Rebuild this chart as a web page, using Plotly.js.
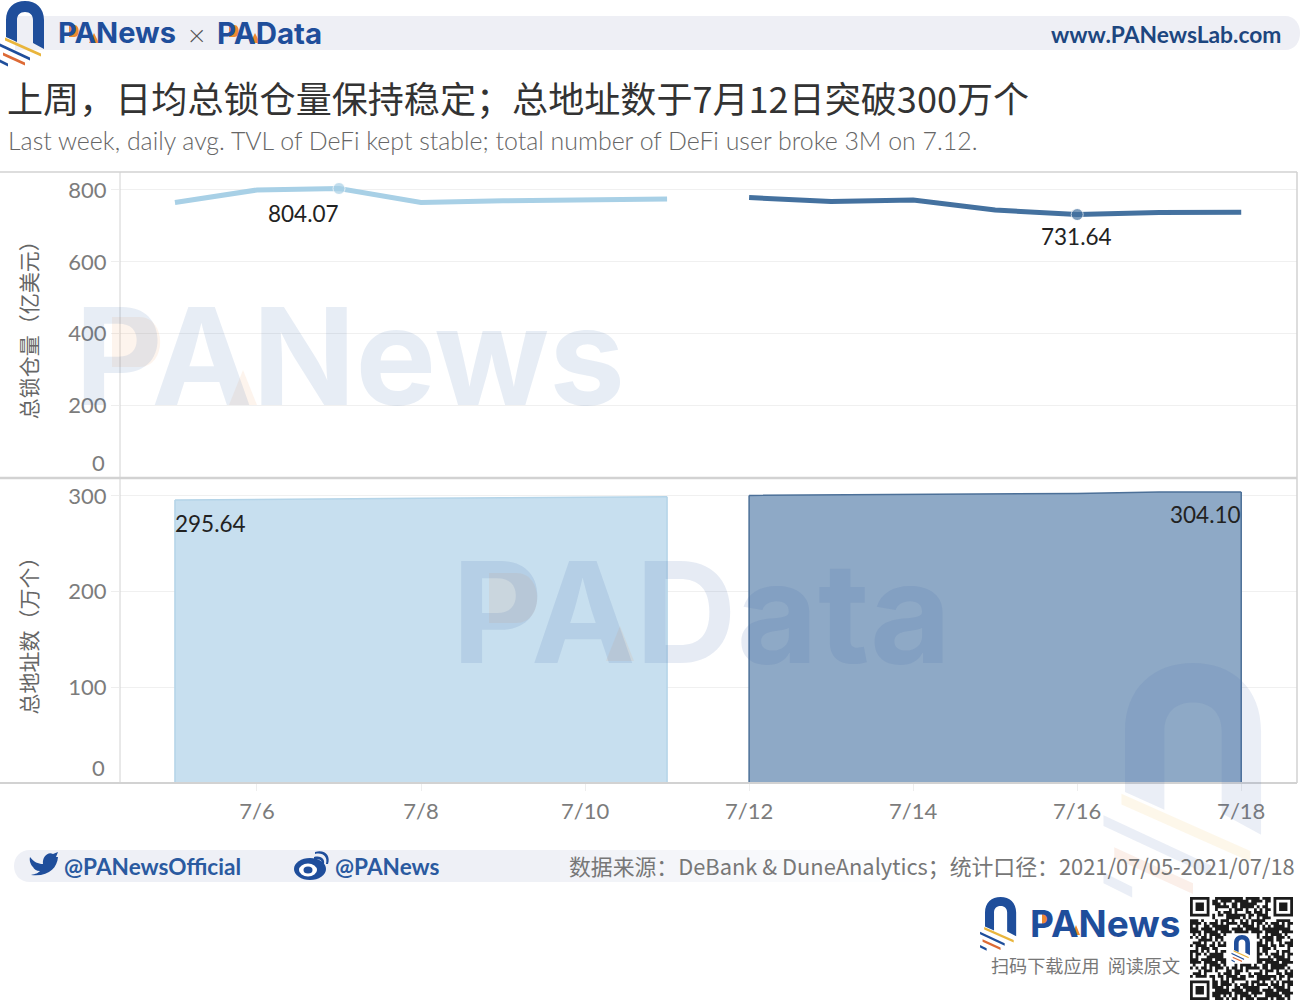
<!DOCTYPE html>
<html><head><meta charset="utf-8">
<script src="https://cdn.plot.ly/plotly-3.0.1.min.js"></script>
<style>html,body{margin:0;padding:0;background:#fff}#c{width:1300px;height:1004px}</style>
</head><body><div id="c"></div>
<script>
// ---- data ----
const daysA = ['7/5','7/6','7/7','7/8','7/9','7/10','7/11'];
const daysB = ['7/12','7/13','7/14','7/15','7/16','7/17','7/18'];
const allDays = daysA.concat(daysB);
const tickDays = ['7/6','7/8','7/10','7/12','7/14','7/16','7/18'];
const tvlA = [765,800,804.07,765,770,772,775];
const tvlB = [779,768,772,744,731.64,737,738];
const usersA = [295.64,296,297,297.5,298,298.5,299];
const usersB = [300.5,301,302,302,302.5,304,304.10];
const tvlTicks = [200,400,600,800];
const userTicks = [100,200,300];
const tvlMarkA = [0,0,12,0,0,0,0];
const tvlMarkB = [0,0,0,0,12,0,0];

// ---- helpers: page pixels to paper fractions (the paper is the whole page) ----
const W=1300,H=1004;
const fx=x=>x/W, fy=y=>1-y/H, pt=(x,y)=>fx(x)+','+fy(y);
const shapes=[];
function path(d,fill,opacity,layer){shapes.push({type:'path',xref:'paper',yref:'paper',path:d,fillcolor:fill,line:{width:0},opacity:opacity==null?1:opacity,layer:layer||'above'});}
function rect(x0,y0,x1,y1,fill,opacity,layer){shapes.push({type:'rect',xref:'paper',yref:'paper',x0:fx(x0),x1:fx(x1),y0:fy(y0),y1:fy(y1),fillcolor:fill,line:{width:0},opacity:opacity==null?1:opacity,layer:layer||'above'});}
function hline(x0,x1,y,w){shapes.push({type:'line',xref:'paper',yref:'paper',x0:fx(x0),x1:fx(x1),y0:fy(y),y1:fy(y),line:{color:'#d2d2d2',width:w}});}
function vline(x,y0,y1,w){shapes.push({type:'line',xref:'paper',yref:'paper',x0:fx(x),x1:fx(x),y0:fy(y0),y1:fy(y1),line:{color:'#d2d2d2',width:w}});}
function ell(cx,cy,rx,ry,fill,opacity){shapes.push({type:'circle',xref:'paper',yref:'paper',x0:fx(cx-rx),x1:fx(cx+rx),y0:fy(cy+ry),y1:fy(cy-ry),fillcolor:fill,line:{width:0},opacity:opacity==null?1:opacity});}
function stripe(ox,oy,s,a,b,c,d,th,fill,op){
  const q=(u,v)=>pt(ox+u*s,oy+v*s), t=th/2;
  path('M'+q(a,b-t)+'L'+q(c,d-t)+'L'+q(c,d+t)+'L'+q(a,b+t)+'Z',fill,op);
}
function logo(ox,oy,s,op,cols){
  const q=(u,v)=>pt(ox+u*s,oy+v*s);
  const d='M'+q(0,36)+'L'+q(0,19)+'C'+q(0,7)+' '+q(8,0)+' '+q(19,0)+'C'+q(30,0)+' '+q(38,7)+' '+q(38,19)+
    'L'+q(38,48)+'L'+q(27,42)+'L'+q(27,19)+'C'+q(27,14)+' '+q(24,11)+' '+q(19,11)+'C'+q(14,11)+' '+q(11,14)+' '+q(11,19)+'L'+q(11,41)+'Z';
  path(d,cols[0],op);
  stripe(ox,oy,s,-1,38,35,54,3,cols[1],op);
  stripe(ox,oy,s,-6,44,24,58,3,cols[0],op);
  stripe(ox,oy,s,-3,53,19,63,3,cols[2],op);
  stripe(ox,oy,s,-6,60,2,64,3,cols[0],op);
}
const logoCols=['#1f4e9b','#e9b53c','#dd6a35'];

// chrome bars
path('M'+pt(15,16)+'L'+pt(1285,16)+'C'+pt(1295,16)+' '+pt(1300,24)+' '+pt(1300,33)+'C'+pt(1300,42)+' '+pt(1295,50)+' '+pt(1285,50)+'L'+pt(15,50)+'Z','#eeeff5',1,'below');
path('M'+pt(30,850)+'L'+pt(520,850)+'L'+pt(520,882)+'L'+pt(30,882)+'C'+pt(20,882)+' '+pt(14,875)+' '+pt(14,866)+'C'+pt(14,857)+' '+pt(20,850)+' '+pt(30,850)+'Z','#eef0f6',1,'below');
for(let i=0;i<10;i++){rect(520+i*40,850,560+i*40,882,'#eef0f6',1-(i+0.5)/10,'below');}

// frame
hline(0,1297,172,1.5); hline(0,1297,478,2.5); hline(0,1297,783,2);
vline(120,172,783,1); vline(1297,172,783,1.5);

// logos and accents
logo(6,1,1,1,logoCols);
logo(985,897,0.82,1,logoCols);
logo(1125,663,3.58,0.11,['#3d68ad','#e9b53c','#dd6a35']);
function accent(x0,y0,x1,y1,op,kind){
  if(kind==='p'){path('M'+pt(x0,y0)+'L'+pt((x0+x1)/2,y0)+'C'+pt(x1,y0)+' '+pt(x1,y1)+' '+pt((x0+x1)/2,y1)+'L'+pt(x0,y1)+'Z','#ee8a32',op);}
  else{path('M'+pt(x0,y1)+'L'+pt((x0+x1)/2,y0)+'L'+pt(x1,y1)+'Z','#ee8a32',op);}
}
accent(69,25,80,37,1,'p'); accent(89,33,99,43,1,'a');
accent(229,25,240,37,1,'p'); accent(250,33,260,43,1,'a');
accent(1042,912,1052,927,1,'p'); accent(1072,925,1080,935,1,'a');
accent(112,317,167,367,0.09,'p'); accent(229,370,257,405,0.09,'a');
accent(489,573,544,623,0.09,'p'); accent(606,626,634,661,0.09,'a');

// twitter bird
path('M'+pt(30,857)+'C'+pt(34,862)+' '+pt(38,864)+' '+pt(43,864)+'C'+pt(42,857)+' '+pt(48,851)+' '+pt(53,854)+'L'+pt(58,852)+'L'+pt(56,857)+'L'+pt(58,857)+'C'+pt(57,868)+' '+pt(49,877)+' '+pt(31,875)+'C'+pt(36,874)+' '+pt(38,873)+' '+pt(40,871)+'C'+pt(36,871)+' '+pt(34,869)+' '+pt(33,867)+'C'+pt(31,865)+' '+pt(29,861)+' '+pt(30,857)+'Z','#1f4e9b');
// weibo
ell(310,869,16,11,'#1f4e9b'); ell(308,870,9,6.5,'#ffffff'); ell(308,870,4.5,3.5,'#1f4e9b');
path('M'+pt(314,857)+'C'+pt(322,855)+' '+pt(325,860)+' '+pt(324,864)+'L'+pt(322,864)+'C'+pt(322,860)+' '+pt(320,859)+' '+pt(314,859)+'Z','#1f4e9b');
path('M'+pt(315,852)+'C'+pt(325,849)+' '+pt(331,856)+' '+pt(328,864)+'L'+pt(326,864)+'C'+pt(328,857)+' '+pt(323,852)+' '+pt(315,854)+'Z','#1f4e9b');

// decorative scan-code block in the corner
(function(){
  const n=37,x0=1190,y0=897,m=103/n; let d='';
  const cell=(r,c)=>{d+='M'+pt(x0+c*m,y0+r*m)+'L'+pt(x0+(c+1)*m,y0+r*m)+'L'+pt(x0+(c+1)*m,y0+(r+1)*m)+'L'+pt(x0+c*m,y0+(r+1)*m)+'Z';};
  const finder=(i,j)=>{const a=Math.max(Math.abs(i-3),Math.abs(j-3));return a===3||a<=1;};
  for(let r=0;r<n;r++)for(let c=0;c<n;c++){
    let on;
    const inTL=r<8&&c<8,inTR=r<8&&c>=n-8,inBL=r>=n-8&&c<8;
    if(inTL)on=r<7&&c<7&&finder(r,c);
    else if(inTR)on=r<7&&c>=n-7&&finder(r,c-(n-7));
    else if(inBL)on=r>=n-7&&c<7&&finder(r-(n-7),c);
    else if(Math.abs(r-18)<=5&&Math.abs(c-18)<=5)on=false;
    else on=(((r*r*7+c*c*13+r*c*5+r*3+c*11)%11)%2===0)||((r*17+c*29)%7===0);
    if(on)cell(r,c);
  }
  path(d,'#1c1c1c');
  logo(1234,935,0.42,1,logoCols);
})();

// ---- annotations ----
const ann=[];
function txt(text,x,y,size,color,anchor,family,bold,weight){
  ann.push({xref:'paper',yref:'paper',x:fx(x),y:fy(y),text:bold?'<b>'+text+'</b>':text,showarrow:false,xanchor:anchor,yanchor:'middle',
    font:{family:family,size:size,color:color,weight:weight||400},borderpad:0,borderwidth:0});
}
const cjk='"Noto Sans CJK SC"', lat='Lato, "Noto Sans"', inter='Inter, "Open Sans"';
txt('PANews',58,33,29,'#1f4e9b','left',inter,true);
txt('×',196,34,30,'#555','center',lat,false,300);
txt('PAData',217,33,29.5,'#1f4e9b','left',inter,true);
txt('www.PANewsLab.com',1281,34,22.8,'#1d467f','right',lat,true);
txt('上周，日均总锁仓量保持稳定；总地址数于7月12日突破300万个',7,97,36.1,'#333','left',cjk,false);
txt('Last week, daily avg. TVL of DeFi kept stable; total number of DeFi user broke 3M on 7.12.',8,140,24.9,'#666','left',lat,false,300);
txt('PANews',75,356,135.3,'rgba(61,104,173,0.12)','left',inter,true);
txt('PAData',452,612,140,'rgba(61,104,173,0.13)','left',inter,true);
txt('@PANewsOfficial',64,866,22.6,'#2a5aa0','left',lat,true);
txt('@PANews',335,866,22.6,'#2a5aa0','left',lat,true);
txt('数据来源：DeBank & DuneAnalytics；统计口径：2021/07/05-2021/07/18',1295,865,21.85,'#777','right',cjk,false);
txt('PANews',1030,923,37,'#1f4e9b','left',inter,true);
txt('扫码下载应用  阅读原文',1180,965,18.1,'#777','right',cjk,false);
// zero tick labels sit just above their axis lines
ann.push({xref:'paper',yref:'y',x:fx(107),y:0,text:'0',yshift:15,showarrow:false,xanchor:'right',yanchor:'middle',font:{family:lat,size:22,color:'#7c7c7c'}});
ann.push({xref:'paper',yref:'y2',x:fx(107),y:0,text:'0',yshift:16,showarrow:false,xanchor:'right',yanchor:'middle',font:{family:lat,size:22,color:'#7c7c7c'}});
// value labels
const lab=(x,y,yref,text,xs,ys)=>ann.push({xref:'x',yref:yref,x:x,y:y,text:text,xshift:xs,yshift:ys,showarrow:false,xanchor:'center',yanchor:'middle',font:{family:lat,size:22.5,color:'#222'}});
lab(daysA[2],tvlA[2],'y',String(tvlA[2]),-36,-25);
lab(daysB[4],tvlB[4],'y',String(tvlB[4]),-1,-22);
lab(daysA[0],usersA[0],'y2',String(usersA[0]),36,-23);
lab(daysB[6],usersB[6],'y2',usersB[6].toFixed(2),-36,-23);

// ---- traces ----
const lightLine='#a8d0e6', darkLine='#44719f';
const traces=[
 {x:daysA,y:tvlA,yaxis:'y',xaxis:'x',mode:'lines+markers',line:{color:lightLine,width:5},marker:{size:tvlMarkA,color:lightLine},hoverinfo:'skip'},
 {x:daysB,y:tvlB,yaxis:'y',xaxis:'x',mode:'lines+markers',line:{color:darkLine,width:5},marker:{size:tvlMarkB,color:darkLine},hoverinfo:'skip'},
 {x:daysA,y:usersA,yaxis:'y2',xaxis:'x',mode:'lines',fill:'tozeroy',fillcolor:'#c7dfef',line:{color:'#b4d4e8',width:1.5},hoverinfo:'skip'},
 {x:daysB,y:usersB,yaxis:'y2',xaxis:'x',mode:'lines',fill:'tozeroy',fillcolor:'#8ea9c6',line:{color:'#4c7098',width:1.5},hoverinfo:'skip'},
 // closing edges of the areas
 {x:[daysA[0],daysA[0]],y:[0,usersA[0]],yaxis:'y2',xaxis:'x',mode:'lines',line:{color:'#b4d4e8',width:1.5},hoverinfo:'skip'},
 {x:[daysA[6],daysA[6]],y:[0,usersA[6]],yaxis:'y2',xaxis:'x',mode:'lines',line:{color:'#b4d4e8',width:1.5},hoverinfo:'skip'},
 {x:[daysB[0],daysB[0]],y:[0,usersB[0]],yaxis:'y2',xaxis:'x',mode:'lines',line:{color:'#4c7098',width:1.5},hoverinfo:'skip'},
 {x:[daysB[6],daysB[6]],y:[0,usersB[6]],yaxis:'y2',xaxis:'x',mode:'lines',line:{color:'#4c7098',width:1.5},hoverinfo:'skip'}
];

const axisFont={family:lat,size:22,color:'#7c7c7c'};
const titleFont={family:cjk,size:21,color:'#666'};
const yCommon={showline:false,zeroline:false,showgrid:true,gridcolor:'#f0f0f0',gridwidth:1,ticks:'outside',ticklen:8,tickcolor:'#eeeeee',tickfont:axisFont,ticklabelstandoff:0,automargin:false,anchor:'x',tickmode:'array'};
const layout={
 width:W,height:H,margin:{l:0,r:0,t:0,b:0,pad:0},paper_bgcolor:'#fff',plot_bgcolor:'rgba(0,0,0,0)',showlegend:false,
 xaxis:{domain:[fx(120),fx(1297)],anchor:'y2',type:'category',categoryorder:'array',categoryarray:allDays,range:[-0.67,13.68],
   tickmode:'array',tickvals:tickDays,ticktext:tickDays,ticks:'outside',ticklen:7,tickcolor:'#eeeeee',tickfont:axisFont,showgrid:false,zeroline:false,showline:false,ticklabelstandoff:2,automargin:false},
 yaxis:Object.assign({},yCommon,{domain:[fy(477.5),fy(172)],range:[0,850],tickvals:tvlTicks,ticktext:tvlTicks.map(String),title:{text:'总锁仓量（亿美元）',font:titleFont,standoff:24}}),
 yaxis2:Object.assign({},yCommon,{domain:[fy(783),fy(478)],range:[0,318.7],tickvals:userTicks,ticktext:userTicks.map(String),title:{text:'总地址数（万个）',font:titleFont,standoff:24}}),
 shapes:shapes,annotations:ann
};
Plotly.newPlot('c',traces,layout,{displayModeBar:false,staticPlot:true});
</script></body></html>
